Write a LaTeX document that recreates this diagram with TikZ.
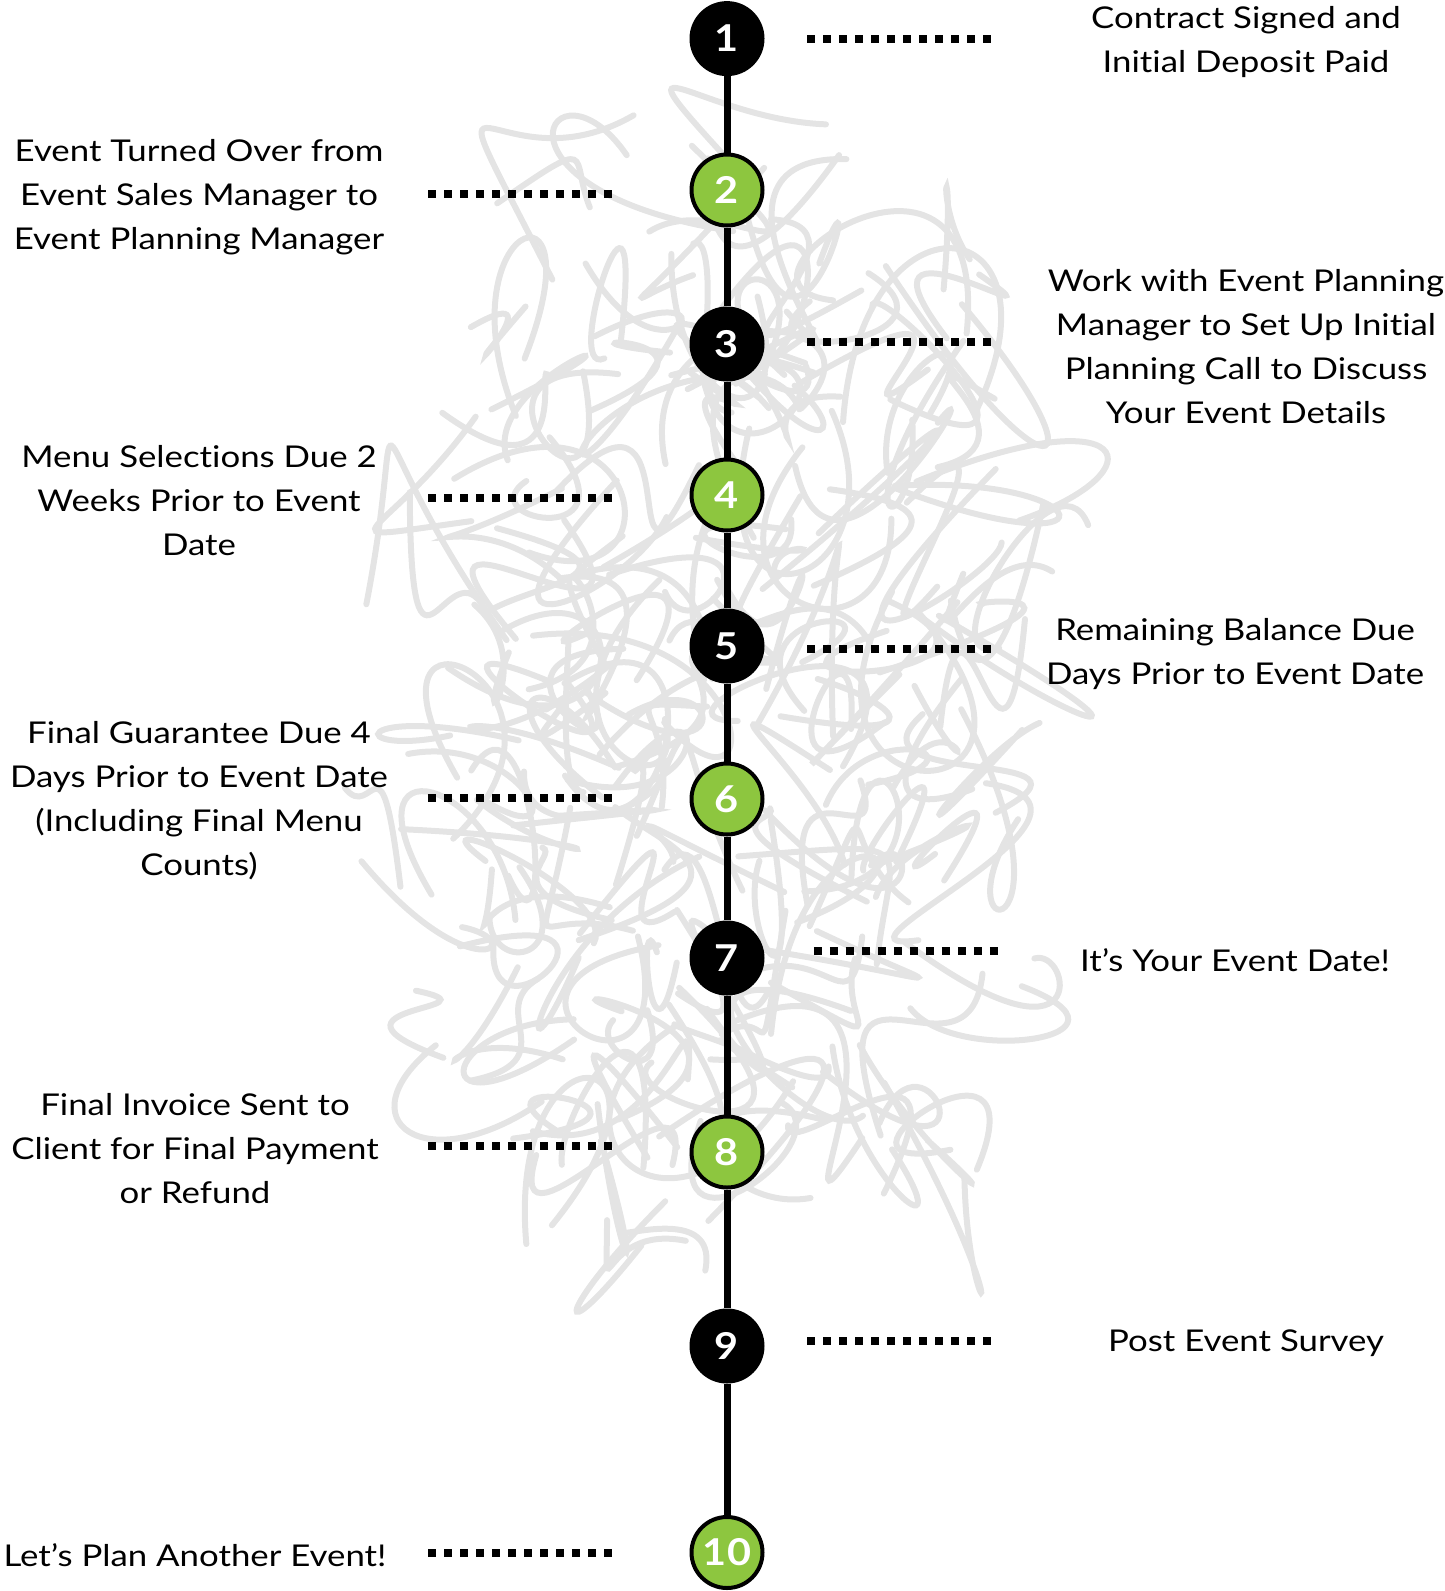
\documentclass[tikz,border=0pt]{standalone}
\usepackage{fontspec}
\setmainfont{Lato}[FakeStretch=1.16,Ligatures=NoCommon]
\newfontfamily\numfamily{Lato}[FakeStretch=1.12]
\definecolor{lime}{RGB}{141,198,63}
\definecolor{scribgray}{RGB}{228,228,228}
\begin{document}
\begin{tikzpicture}[x=1pt,y=-1pt,
  stem/.style={line width=7pt},
  dots/.style={line width=8pt, dash pattern=on 8pt off 8pt},
  numfont/.style={font=\numfamily\fontsize{37}{37}\selectfont\bfseries},
  blk/.style={circle, fill=black, minimum size=75pt, inner sep=0pt, text=white, numfont},
  grn/.style={circle, fill=lime, draw=black, line width=4pt, minimum size=71pt, inner sep=0pt, text=white, numfont},
  lbl/.style={align=center, font=\fontsize{30}{44}\selectfont, text=black, inner sep=0pt, yshift=-2pt},
  scr/.style={draw=scribgray, line width=6pt, line cap=round}
]
\useasboundingbox (0,0) rectangle (1445,1591);
% background scribble
\pgfmathsetseed{11}
\foreach \i in {1,...,190}{
  \pgfmathsetmacro{\sang}{360*rnd}
  \pgfmathsetmacro{\srad}{sqrt(rnd)}
  \pgfmathsetmacro{\pcx}{712+300*\srad*cos(\sang)}
  \pgfmathsetmacro{\pcy}{700+570*\srad*sin(\sang)}
  \pgfmathsetmacro{\pxa}{\pcx+90*rand}
  \pgfmathsetmacro{\pya}{\pcy+90*rand}
  \pgfmathsetmacro{\pxb}{\pcx+200*rand}
  \pgfmathsetmacro{\pyb}{\pcy+200*rand}
  \pgfmathsetmacro{\pxc}{\pcx+200*rand}
  \pgfmathsetmacro{\pyc}{\pcy+200*rand}
  \pgfmathsetmacro{\pxd}{\pcx+90*rand}
  \pgfmathsetmacro{\pyd}{\pcy+90*rand}
  \draw[scr] (\pxa,\pya) .. controls (\pxb,\pyb) and (\pxc,\pyc) .. (\pxd,\pyd);
}
% circles
\node[blk] (c1) at (727,38.6) {1};
\node[grn] (c2) at (727,190) {2};
\node[blk] (c3) at (727,344) {3};
\node[grn] (c4) at (727,495) {4};
\node[blk] (c5) at (727,646) {5};
\node[grn] (c6) at (727,799) {6};
\node[blk] (c7) at (727,958) {7};
\node[grn] (c8) at (727,1152) {8};
\node[blk] (c9) at (727,1346) {9};
\node[grn] (c10) at (727,1552.5) {10};
\foreach \a/\b in {c1/c2,c2/c3,c3/c4,c4/c5,c5/c6,c6/c7,c7/c8,c8/c9,c9/c10}
  \draw[stem] (\a) -- (\b);
% dotted leaders
\coordinate (r1a) at (807.3,38.6);  \coordinate (r1b) at (991.3,38.6);
\coordinate (l2a) at (428.2,193.8); \coordinate (l2b) at (612.2,193.8);
\coordinate (r3a) at (807.3,342);   \coordinate (r3b) at (991.3,342);
\coordinate (l4a) at (428.2,498.2); \coordinate (l4b) at (612.2,498.2);
\coordinate (r5a) at (807.3,649.4); \coordinate (r5b) at (991.3,649.4);
\coordinate (l6a) at (428.2,797.6); \coordinate (l6b) at (612.2,797.6);
\coordinate (r7a) at (813.8,950.8); \coordinate (r7b) at (997.8,950.8);
\coordinate (l8a) at (428.2,1145.6);\coordinate (l8b) at (612.2,1145.6);
\coordinate (r9a) at (807.3,1340.5);\coordinate (r9b) at (991.3,1340.5);
\coordinate (l10a) at (428.2,1552.6);\coordinate (l10b) at (612.2,1552.6);
\foreach \a/\b in {r1a/r1b,l2a/l2b,r3a/r3b,l4a/l4b,r5a/r5b,l6a/l6b,r7a/r7b,l8a/l8b,r9a/r9b,l10a/l10b}
  \draw[dots] (\a) -- (\b);
% labels
\node[lbl] (t1) at (1246,40) {Contract Signed and\\Initial Deposit Paid};
\node[lbl] (t2) at (199,195) {Event Turned Over from\\Event Sales Manager to\\Event Planning Manager};
\node[lbl] (t3) at (1246,345) {Work with Event Planning\\Manager to Set Up Initial\\Planning Call to Discuss\\Your Event Details};
\node[lbl] (t4) at (199,499) {Menu Selections Due 2\\Weeks Prior to Event\\Date};
\node[lbl] (t5) at (1235,652) {Remaining Balance Due\\Days Prior to Event Date};
\node[lbl] (t6) at (199,799) {Final Guarantee Due 4\\Days Prior to Event Date\\(Including Final Menu\\Counts)};
\node[lbl] (t7) at (1235,958) {It’s Your Event Date!};
\node[lbl] (t8) at (195,1147) {Final Invoice Sent to\\Client for Final Payment\\or Refund};
\node[lbl] (t9) at (1246,1341.5) {Post Event Survey};
\node[lbl] (t10) at (195,1553.5) {Let’s Plan Another Event!};
\end{tikzpicture}
\end{document}
